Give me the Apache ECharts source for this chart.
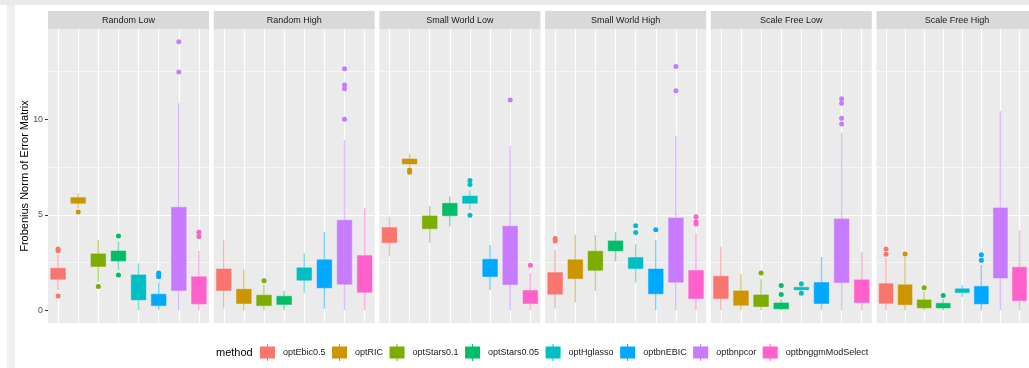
<!DOCTYPE html>
<html>
<head>
<meta charset="utf-8">
<script src="https://cdn.jsdelivr.net/npm/echarts@6/dist/echarts.min.js"></script>
<style>
  html, body { margin: 0; padding: 0; background: #ffffff; }
  #chart { width: 1029px; height: 368px; }
</style>
</head>
<body>
<div id="chart"></div>
<script>
// ---------------- DATA ----------------
const methods = ['optEbic0.5', 'optRIC', 'optStars0.1', 'optStars0.05', 'optHglasso', 'optbnEBIC', 'optbnpcor', 'optbnggmModSelect'];
const panelTitles = ['Random Low', 'Random High', 'Small World Low', 'Small World High', 'Scale Free Low', 'Scale Free High'];
const yTickLabels = [0, 5, 10];

// each entry: [min (lower whisker), Q1, median, Q3, max (upper whisker)]
const randomLow = [
  [1.06, 1.62, 1.90, 2.20, 2.90],
  [5.34, 5.60, 5.75, 5.90, 6.13],
  [1.50, 2.29, 2.60, 2.95, 3.68],
  [2.11, 2.58, 2.85, 3.10, 3.60],
  [0.00, 0.54, 1.20, 1.85, 2.46],
  [0.00, 0.24, 0.50, 0.84, 1.45],
  [0.00, 1.03, 2.50, 5.39, 10.84],
  [0.00, 0.33, 0.90, 1.75, 3.10]
];
const randomHigh = [
  [0.09, 1.03, 1.60, 2.16, 3.65],
  [0.00, 0.35, 0.70, 1.10, 2.15],
  [0.00, 0.24, 0.50, 0.79, 1.33],
  [0.00, 0.30, 0.50, 0.73, 1.01],
  [0.92, 1.57, 1.90, 2.22, 2.98],
  [0.07, 1.17, 1.90, 2.64, 4.10],
  [0.00, 1.36, 2.80, 4.71, 8.92],
  [0.00, 0.94, 1.80, 2.86, 5.36]
];
const smallWorldLow = [
  [2.86, 3.54, 3.95, 4.33, 4.90],
  [7.50, 7.66, 7.80, 7.92, 8.20],
  [3.54, 4.27, 4.60, 4.94, 5.46],
  [4.38, 4.95, 5.30, 5.60, 5.95],
  [5.25, 5.60, 5.80, 5.98, 6.30],
  [1.06, 1.76, 2.20, 2.67, 3.42],
  [0.00, 1.34, 2.70, 4.40, 8.60],
  [0.00, 0.35, 0.60, 1.03, 1.94]
];
const smallWorldHigh = [
  [0.09, 0.84, 1.40, 1.97, 3.16],
  [0.40, 1.66, 2.10, 2.64, 3.96],
  [1.01, 2.09, 2.60, 3.09, 3.93],
  [2.55, 3.11, 3.35, 3.63, 4.08],
  [1.45, 2.18, 2.45, 2.76, 3.47],
  [0.00, 0.86, 1.40, 2.16, 3.68],
  [0.00, 1.47, 2.80, 4.83, 9.14],
  [0.00, 0.61, 1.20, 2.08, 4.03]
];
const scaleFreeLow = [
  [0.00, 0.61, 1.10, 1.78, 3.33],
  [0.00, 0.26, 0.60, 1.01, 1.90],
  [0.00, 0.19, 0.45, 0.80, 1.62],
  [0.00, 0.07, 0.20, 0.38, 0.58],
  [1.00, 1.07, 1.13, 1.20, 1.27],
  [0.03, 0.35, 0.90, 1.45, 2.79],
  [0.00, 1.45, 2.80, 4.78, 9.30],
  [0.00, 0.40, 0.90, 1.59, 3.05]
];
const scaleFreeHigh = [
  [0.00, 0.36, 0.80, 1.39, 2.72],
  [0.00, 0.29, 0.70, 1.33, 2.80],
  [0.00, 0.12, 0.30, 0.54, 0.98],
  [0.00, 0.12, 0.22, 0.36, 0.57],
  [0.71, 0.92, 1.00, 1.12, 1.31],
  [0.00, 0.33, 0.80, 1.25, 2.37],
  [0.00, 1.69, 3.30, 5.36, 10.43],
  [0.00, 0.50, 1.20, 2.25, 4.17]
];

// outliers: [method index, value]
const randomLowOut = [[0, 3.20], [0, 3.12], [0, 0.75], [1, 5.15], [2, 1.24], [3, 3.89], [3, 1.85], [5, 1.95], [5, 1.85], [5, 1.75], [6, 14.06], [6, 12.48], [7, 4.08], [7, 3.86]];
const randomHighOut = [[2, 1.54], [6, 12.65], [6, 11.80], [6, 11.60], [6, 10.00]];
const smallWorldLowOut = [[1, 7.35], [1, 7.22], [4, 6.79], [4, 6.58], [4, 4.97], [6, 11.01], [7, 2.35]];
const smallWorldHighOut = [[0, 3.75], [0, 3.62], [4, 4.43], [4, 4.07], [5, 4.21], [6, 12.76], [6, 11.50], [7, 4.89], [7, 4.64], [7, 4.52]];
const scaleFreeLowOut = [[2, 1.95], [3, 1.29], [3, 0.82], [4, 1.38], [4, 0.89], [6, 11.08], [6, 10.84], [6, 10.05], [6, 9.75]];
const scaleFreeHighOut = [[0, 3.21], [0, 2.93], [1, 2.95], [2, 1.17], [3, 0.77], [5, 2.91], [5, 2.62]];

const panelStats = [randomLow, randomHigh, smallWorldLow, smallWorldHigh, scaleFreeLow, scaleFreeHigh];
const panelOutliers = [randomLowOut, randomHighOut, smallWorldLowOut, smallWorldHighOut, scaleFreeLowOut, scaleFreeHighOut];

// ---------------- STYLE / LAYOUT ----------------
const COLORS = ['#F8766D', '#CD9600', '#7CAE00', '#00BE67', '#00BFC4', '#00A9FF', '#C77CFF', '#FF61CC'];
const FONT = 'Liberation Sans, Arial, sans-serif';
const PANEL_LEFT0 = 48, PANEL_STEP = 165.7, PANEL_W = 161, PANEL_TOP = 29, PANEL_H = 294;
const STRIP_TOP = 11, STRIP_H = 18;

function rgba(hex, a) {
  const n = parseInt(hex.slice(1), 16);
  return 'rgba(' + ((n >> 16) & 255) + ',' + ((n >> 8) & 255) + ',' + (n & 255) + ',' + a + ')';
}

function renderBox(params, api) {
  const x = api.value(0);
  const p0 = api.coord([x, api.value(1)]);
  const p1 = api.coord([x, api.value(2)]);
  const p2 = api.coord([x, api.value(3)]);
  const p3 = api.coord([x, api.value(4)]);
  const p4 = api.coord([x, api.value(5)]);
  const bw = api.size([1, 0])[0] * 0.73;
  const c = COLORS[x];
  const light = rgba(c, 0.5);
  const cx = p2[0];
  return {
    type: 'group',
    children: [
      { type: 'line', shape: { x1: cx, y1: p4[1], x2: cx, y2: p3[1] }, style: { stroke: light, lineWidth: 1.4 } },
      { type: 'line', shape: { x1: cx, y1: p1[1], x2: cx, y2: p0[1] }, style: { stroke: light, lineWidth: 1.4 } },
      { type: 'rect', shape: { x: cx - bw / 2, y: p3[1], width: bw, height: Math.max(p1[1] - p3[1], 1) }, style: { fill: c, stroke: light, lineWidth: 1 } },
      { type: 'line', shape: { x1: cx - bw / 2, y1: p2[1], x2: cx + bw / 2, y2: p2[1] }, style: { stroke: light, lineWidth: 1.4 } }
    ]
  };
}

const grids = [], xAxes = [], yAxes = [], series = [], graphics = [];

// page frame
graphics.push({ type: 'rect', shape: { x: 0, y: 0, width: 1029, height: 5 }, style: { fill: '#ebebeb' }, silent: true });
graphics.push({ type: 'rect', shape: { x: 7, y: 5, width: 8, height: 363 }, style: { fill: '#efefef' }, silent: true });

panelTitles.forEach(function (title, i) {
  const left = PANEL_LEFT0 + i * PANEL_STEP;
  grids.push({ left: left, top: PANEL_TOP, width: PANEL_W, height: PANEL_H, show: true, backgroundColor: '#ebebeb', borderWidth: 0, containLabel: false });
  xAxes.push({
    gridIndex: i, type: 'category', data: methods, boundaryGap: true,
    axisLine: { show: false }, axisTick: { show: false },
    axisLabel: { show: false, interval: 0 },
    splitLine: { show: true, interval: 0, alignWithLabel: true, lineStyle: { color: '#ffffff', width: 1.2 } }
  });
  yAxes.push({
    gridIndex: i, type: 'value', min: -0.67, max: 14.73, minInterval: 5, maxInterval: 5,
    axisLine: { show: false },
    axisTick: { show: i === 0, length: 3, customValues: yTickLabels, lineStyle: { color: '#333333', width: 1 } },
    axisLabel: { show: i === 0, customValues: yTickLabels, color: '#4d4d4d', fontSize: 8.8, fontFamily: FONT, margin: 5 },
    splitLine: { show: true, showMinLine: false, showMaxLine: false, lineStyle: { color: '#ffffff', width: 1.2 } },
    minorTick: { show: false, splitNumber: 2 },
    minorSplitLine: { show: true, lineStyle: { color: '#ffffff', width: 0.6 } }
  });
  series.push({
    type: 'custom', name: title, xAxisIndex: i, yAxisIndex: i, z: 2,
    renderItem: renderBox,
    encode: { x: 0, y: [1, 2, 3, 4, 5] },
    data: panelStats[i].map(function (s, k) { return [k].concat(s); })
  });
  series.push({
    type: 'scatter', name: title + ' outliers', xAxisIndex: i, yAxisIndex: i, z: 3,
    symbolSize: 5,
    itemStyle: { color: function (p) { return COLORS[p.value[0]]; }, opacity: 1 },
    data: panelOutliers[i]
  });
  // strip
  graphics.push({ type: 'rect', shape: { x: left, y: STRIP_TOP, width: PANEL_W, height: STRIP_H }, style: { fill: '#d9d9d9' }, silent: true });
  graphics.push({ type: 'text', x: left + PANEL_W / 2, y: STRIP_TOP + STRIP_H / 2 + 0.5,
    style: { text: title, fill: '#1a1a1a', fontSize: 9, fontFamily: FONT, align: 'center', verticalAlign: 'middle' }, silent: true });
});

// axis title and legend title
graphics.push({ type: 'text', x: 25, y: 176, rotation: Math.PI / 2,
  style: { text: 'Frobenius Norm of Error Matrix', fill: '#000000', fontSize: 11, fontFamily: FONT, align: 'center', verticalAlign: 'middle' }, silent: true });
graphics.push({ type: 'text', x: 216, y: 353,
  style: { text: 'method', fill: '#000000', fontSize: 11, fontFamily: FONT, align: 'left', verticalAlign: 'middle' }, silent: true });

// legend dummy series (one per method)
methods.forEach(function (m, k) {
  series.push({ type: 'scatter', name: m, xAxisIndex: 0, yAxisIndex: 0, data: [], itemStyle: { color: COLORS[k], opacity: 1 } });
});

const KEY_ICON = 'path://M7,0 H8 V2.5 H15 V14.5 H8 V17 H7 V14.5 H0 V2.5 H7 Z';

const option = {
  animation: false,
  backgroundColor: '#ffffff',
  grid: grids,
  xAxis: xAxes,
  yAxis: yAxes,
  series: series,
  graphic: graphics,
  legend: {
    left: 255, top: 339, orient: 'horizontal',
    itemWidth: 15, itemHeight: 17, itemGap: 6.5,
    selectedMode: false,
    itemStyle: { opacity: 1 },
    textStyle: { fontSize: 9, fontFamily: FONT, color: '#1a1a1a', padding: [0, 0, 0, 3] },
    data: methods.map(function (m) { return { name: m, icon: KEY_ICON }; })
  }
};

const chart = echarts.init(document.getElementById('chart'), null, { renderer: 'canvas' });
chart.setOption(option);
</script>
</body>
</html>
